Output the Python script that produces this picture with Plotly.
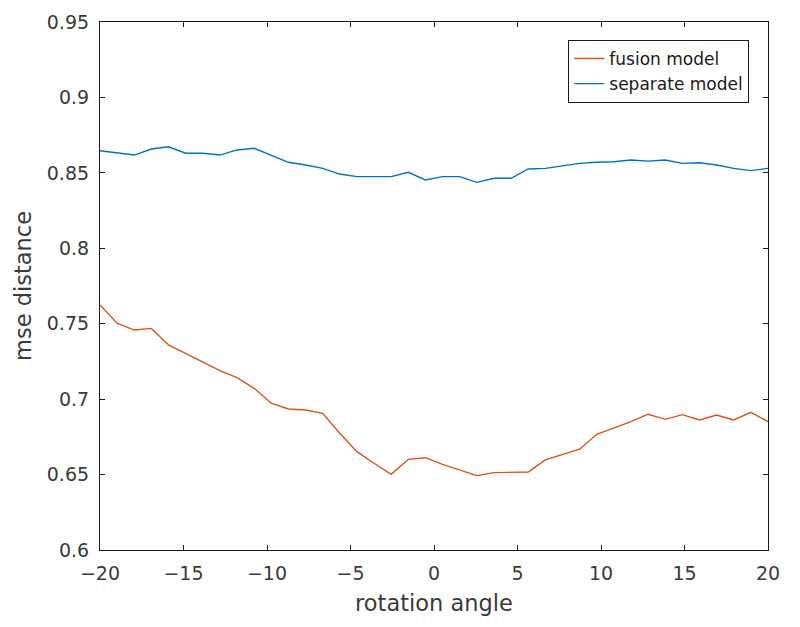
import numpy as np
import plotly.graph_objects as go

angles = np.linspace(-20, 20, 40)

fusion_model = [0.7624, 0.7503, 0.7458, 0.7469, 0.7359, 0.7304, 0.7248, 0.7189, 0.7142, 0.7072,
                0.6973, 0.6935, 0.6928, 0.6906, 0.6774, 0.6652, 0.6575, 0.6502, 0.6601, 0.6612,
                0.6567, 0.6530, 0.6493, 0.6513, 0.6517, 0.6517, 0.6597, 0.6630, 0.6668, 0.6767,
                0.6807, 0.6851, 0.6900, 0.6866, 0.6897, 0.6862, 0.6895, 0.6862, 0.6913, 0.6851]

separate_model = [0.8647, 0.8634, 0.8618, 0.8658, 0.8673, 0.8630, 0.8630, 0.8618, 0.8652, 0.8663,
                  0.8618, 0.8570, 0.8552, 0.8530, 0.8492, 0.8475, 0.8475, 0.8475, 0.8504, 0.8453,
                  0.8475, 0.8475, 0.8437, 0.8464, 0.8464, 0.8526, 0.8530, 0.8545, 0.8563, 0.8570,
                  0.8574, 0.8585, 0.8578, 0.8585, 0.8563, 0.8567, 0.8552, 0.8530, 0.8515, 0.8530]

x_ticks = [-20, -15, -10, -5, 0, 5, 10, 15, 20]
y_ticks = [0.6, 0.65, 0.7, 0.75, 0.8, 0.85, 0.9, 0.95]
y_tick_labels = ["0.6", "0.65", "0.7", "0.75", "0.8", "0.85", "0.9", "0.95"]

fig = go.Figure()
fig.add_trace(go.Scatter(x=angles, y=fusion_model, mode="lines", name="fusion model",
                         line=dict(color="#D95319", width=1.4)))
fig.add_trace(go.Scatter(x=angles, y=separate_model, mode="lines", name="separate model",
                         line=dict(color="#0072BD", width=1.4)))

tick_font = dict(family="DejaVu Sans", size=19, color="#3a3a3a")
title_font = dict(family="DejaVu Sans", size=22.5, color="#3a3a3a")
axis_common = dict(showgrid=False, zeroline=False, showline=True, linecolor="#1a1a1a",
                   linewidth=1.2, mirror="ticks", ticks="inside", ticklen=5,
                   tickcolor="#1a1a1a", tickfont=tick_font, automargin=False)

fig.update_layout(
    width=800, height=627,
    paper_bgcolor="white", plot_bgcolor="white",
    margin=dict(l=92, r=40, t=14, b=85),
    xaxis=dict(range=[-20, 20], tickvals=x_ticks, ticklabelstandoff=6,
               title=dict(text="rotation angle", font=title_font, standoff=12),
               **axis_common),
    yaxis=dict(range=[0.6, 0.95], tickvals=y_ticks, ticktext=y_tick_labels, ticklabelstandoff=6,
               title=dict(text="mse distance", font=title_font, standoff=8),
               **axis_common),
    legend=dict(x=0.972, y=0.966, xanchor="right", yanchor="top",
                bordercolor="#1a1a1a", borderwidth=1, bgcolor="white",
                font=dict(family="DejaVu Sans", size=17, color="#1a1a1a"),
                tracegroupgap=0, itemwidth=30),
    showlegend=True,
)

fig.write_html("out.html")
